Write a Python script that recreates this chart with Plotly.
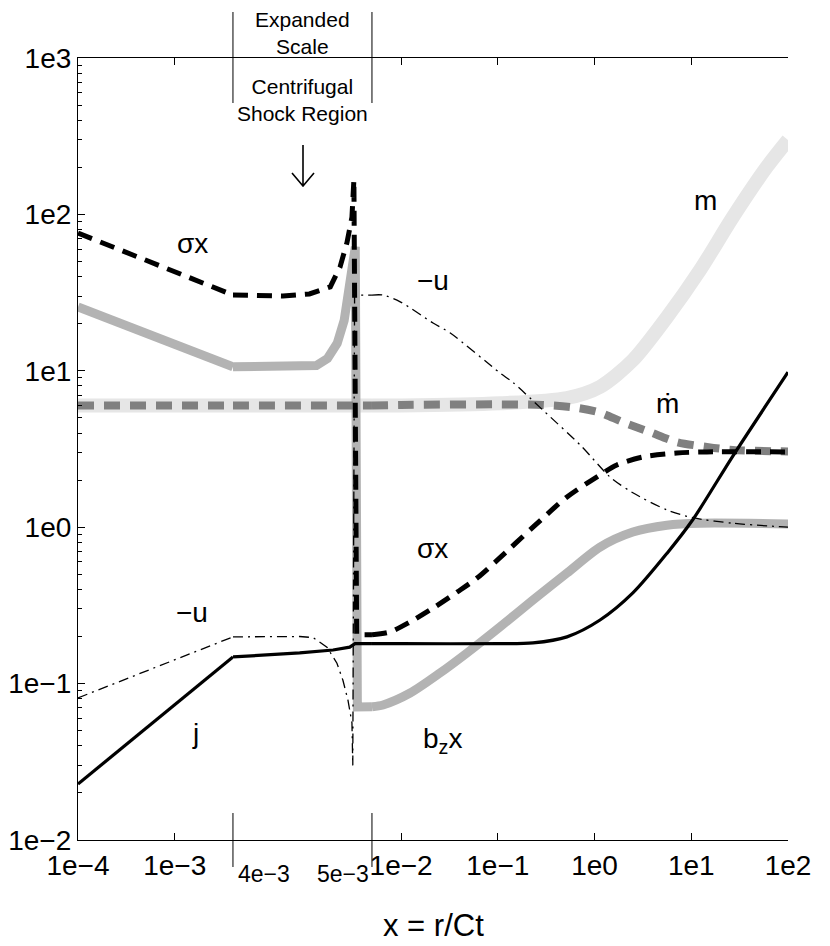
import numpy as np
import plotly.graph_objects as go

# x axis is broken in three parts: log | linear (expanded shock region) | log
X_LO, X_A, X_B, X_HI = 1e-4, 4e-3, 5e-3, 1e2

# curves (x = r/Ct)
sigx_x = [1e-4, 4e-3, 4.36e-3, 4.55e-3, 4.70e-3, 4.77e-3, 4.82e-3, 4.856e-3, 4.87e-3, 4.89e-3, 5e-3,
          7.7e-3, 0.0124, 0.0214, 0.038, 0.061, 0.1, 0.231, 0.519, 1.14, 1.70, 3.16, 7.1, 14.5, 100]
sigx_y = [76, 30.5, 30.1, 31, 34.4, 46, 66, 96, 166, 0.205, 0.205,
          0.214, 0.248, 0.304, 0.385, 0.473, 0.62, 1.0, 1.56, 2.16, 2.5, 2.81, 2.98, 3.03, 3.03]

bzx_x = [1e-4, 4e-3, 4.5e-3, 4.6e-3, 4.68e-3, 4.75e-3, 4.8e-3, 4.84e-3, 4.865e-3, 4.88e-3, 4.895e-3, 5e-3,
         6.5e-3, 0.0124, 0.0253, 0.048, 0.105, 0.231, 0.519, 1.14, 2.49, 5.6, 12.3, 100]
bzx_y = [25.6, 10.6, 10.5, 10.8, 12, 15, 21, 33, 50, 62, 0.0708, 0.071,
         0.073, 0.087, 0.117, 0.157, 0.23, 0.342, 0.509, 0.746, 0.931, 1.03, 1.06, 1.05]

m_x = [1e-4, 4e-3, 5e-3, 0.01, 0.105, 0.519, 1.14, 2.49, 5.6, 12.3, 26.9, 60.4, 100]
m_y = [6.0, 6.0, 6.0, 6.0, 6.2, 6.7, 7.9, 11.7, 22, 44, 96, 201, 299]

mdot_x = [1e-4, 4e-3, 5e-3, 0.01, 0.105, 0.29, 0.658, 1.14, 1.96, 3.73, 7.1, 14.5, 26.9, 100]
mdot_y = [6.0, 6.0, 6.0, 6.05, 6.1, 6.05, 5.8, 5.4, 4.7, 4.06, 3.5, 3.26, 3.12, 3.05]

negu_x = [1e-4, 4e-3, 4.48e-3, 4.576e-3, 4.676e-3, 4.748e-3, 4.791e-3, 4.827e-3, 4.856e-3, 4.862e-3,
          4.875e-3, 4.92e-3, 5e-3, 6.5e-3, 9.8e-3, 0.0214, 0.032, 0.105, 0.144, 0.293, 0.73, 1.44,
          2.49, 5.6, 10.4, 26.9, 100]
negu_y = [0.081, 0.199, 0.2, 0.197, 0.171, 0.135, 0.105, 0.0786, 0.056, 0.03,
          30.5, 30.5, 30.5, 30.5, 27.6, 20.2, 17.5, 9.7, 8.4, 5.6, 3.3, 2.1,
          1.66, 1.29, 1.15, 1.06, 1.0]

j_x = [1e-4, 4e-3, 4.48e-3, 4.72e-3, 4.84e-3, 4.878e-3, 5e-3, 0.01, 0.105, 0.231, 0.519, 1.14,
       2.49, 5.6, 10.4, 26.9, 100]
j_y = [0.0228, 0.148, 0.157, 0.164, 0.171, 0.18, 0.18, 0.18, 0.18, 0.182, 0.199, 0.255,
       0.38, 0.68, 1.12, 2.85, 9.8]

x_left_ticks = [1e-4, 1e-3]
x_right_ticks = [1e-2, 1e-1, 1e0, 1e1, 1e2]
y_ticks = [1e-2, 1e-1, 1e0, 1e1, 1e2, 1e3]


def lbl(v):
    return "1e" + str(int(round(np.log10(v)))).replace("-", "\u2212")


FONT = "Liberation Sans, Arial, sans-serif"
W, H = 830, 946
OFF = 8  # page body margin pushes the figure down/right
# plot frame in page pixels: left 78, top 58, right 788, bottom 840
ML, MT = 78 - OFF, 58 - OFF
PW, PH = 710, 782
MR, MB = W - ML - PW, H - MT - PH

# domain split: both log parts share one decade width
mid = 139 / PW
dec_l = np.log10(X_A) - np.log10(X_LO)
dec_r = np.log10(X_HI) - np.log10(X_B)
d1 = (1 - mid) * dec_l / (dec_l + dec_r)
d2 = d1 + mid

SEGS = [(X_LO, X_A, "x", "linear"), (X_A, X_B, "x2", "linear"), (X_B, X_HI, "x3", "spline")]


def add_curve(fig, xs, ys, line):
    for lo, hi, xa, shape in SEGS:
        pts = [(x, y) for x, y in zip(xs, ys) if lo <= x <= hi]
        fig.add_trace(go.Scatter(
            x=[p[0] for p in pts], y=[p[1] for p in pts], xaxis=xa, yaxis="y",
            mode="lines", line=dict(shape=shape, smoothing=0.8, **line),
            showlegend=False, hoverinfo="skip"))


fig = go.Figure()
add_curve(fig, m_x, m_y, dict(color="#e6e6e6", width=14))
add_curve(fig, bzx_x, bzx_y, dict(color="#b3b3b3", width=9))
add_curve(fig, mdot_x, mdot_y, dict(color="#808080", width=8, dash="16px,10px"))
add_curve(fig, sigx_x, sigx_y, dict(color="black", width=5, dash="15px,9px"))
add_curve(fig, j_x, j_y, dict(color="black", width=3.2))
add_curve(fig, negu_x, negu_y, dict(color="black", width=1.3, dash="10px,5px,2px,5px"))

axis = dict(showline=True, linecolor="black", linewidth=1.2, mirror="ticks", ticks="inside",
            ticklen=7, tickcolor="black", tickwidth=1, showgrid=False, zeroline=False,
            automargin=False, tickfont=dict(family=FONT, size=28, color="black"))

minor_vals = [k * 10.0 ** e for e in range(-2, 3) for k in range(2, 10)]
yax = dict(axis, type="log", range=[-2, 3], tickvals=y_ticks, ticktext=[lbl(v) for v in y_ticks],
           minor=dict(tickvals=minor_vals, ticks="inside", ticklen=4, tickcolor="black"))

fig.update_layout(
    width=W, height=H, margin=dict(l=ML, r=MR, t=MT, b=MB),
    paper_bgcolor="white", plot_bgcolor="white",
    xaxis=dict(axis, type="log", range=[np.log10(X_LO), np.log10(X_A)], domain=[0, d1],
               tickvals=x_left_ticks, ticktext=[lbl(v) for v in x_left_ticks], anchor="y"),
    xaxis2=dict(axis, type="linear", range=[X_A, X_B], domain=[d1, d2],
                tickvals=[], showticklabels=False, anchor="y"),
    xaxis3=dict(axis, type="log", range=[np.log10(X_B), np.log10(X_HI)], domain=[d2, 1],
                tickvals=x_right_ticks, ticktext=[lbl(v) for v in x_right_ticks], anchor="y"),
    yaxis=dict(yax, mirror=False, anchor="x"),
    yaxis2=dict(yax, mirror=False, overlaying="y", side="right", anchor="x3",
                showticklabels=False),
)


def py(p):  # page pixel row -> paper y
    return (58 + PH - p) / PH


def px(p):  # page pixel column -> paper x
    return (p - 78) / PW


# boundary marks of the expanded scale, sticking out of the frame
for xb in (d1, d2):
    for y0, y1 in ((py(103), py(12)), (py(867), py(813))):
        fig.add_shape(type="line", xref="paper", yref="paper", x0=xb, x1=xb, y0=y0, y1=y1,
                      line=dict(color="black", width=1))

# arrow pointing at the shock region
arrow = (f"M {px(303)},{py(145)} L {px(303)},{py(186)} "
         f"M {px(292)},{py(173)} L {px(303)},{py(186)} L {px(314)},{py(173)}")
fig.add_shape(type="path", xref="paper", yref="paper", path=arrow,
              line=dict(color="black", width=1.6))


def note(text, x, y, size=28, xanchor="center", yanchor="middle"):
    fig.add_annotation(text=text, x=x, y=y, xref="paper", yref="paper", showarrow=False,
                       xanchor=xanchor, yanchor=yanchor,
                       font=dict(family=FONT, size=size, color="black"))


note("4e\u22123", d1 + 0.004, py(874), size=23, xanchor="left")
note("5e\u22123", d2 - 0.002, py(874), size=23, xanchor="right")
note("x = r/Ct", px(433), py(945), size=31, yanchor="bottom")

note("Expanded<br>Scale", (d1 + d2) / 2, py(33), size=21)
note("Centrifugal<br>Shock Region", (d1 + d2) / 2, py(100), size=21)

note("\u03c3x", px(192), py(243))
note("\u2212u", px(433), py(280))
note("m", px(705), py(200))
note("\u1e41", px(667), py(404))
note("\u03c3x", px(432), py(548))
note("\u2212u", px(192), py(612))
note("j", px(195), py(733))
note("b<sub>z</sub>x", px(442), py(740))

fig.write_html("out.html")
